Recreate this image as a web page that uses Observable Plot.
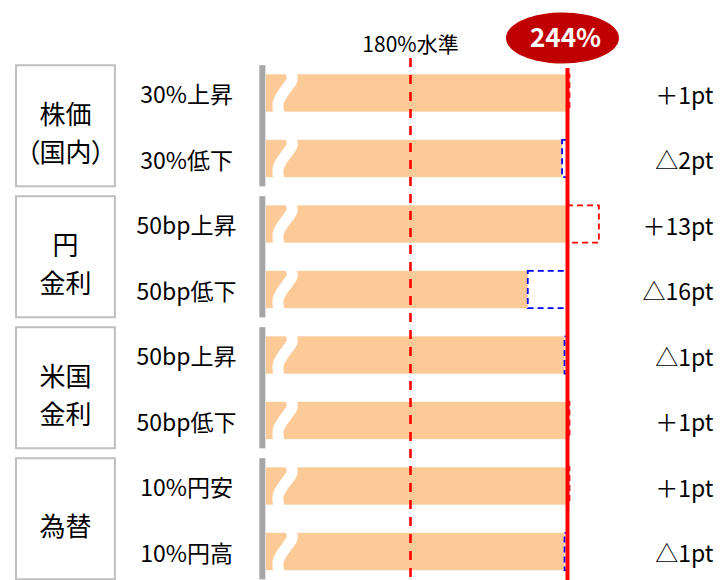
<!DOCTYPE html>
<html>
<head>
<meta charset="utf-8">
<script src="https://cdn.jsdelivr.net/npm/d3@7"></script>
<script src="https://cdn.jsdelivr.net/npm/@observablehq/plot@0.6"></script>
<style>
  html, body { margin: 0; padding: 0; background: #fff; }
  svg { font-family: "Noto Sans CJK JP", sans-serif; }
  .palt text { font-feature-settings: "palt"; }
</style>
</head>
<body>
<div id="chart"></div>
<script>
// ---- data ----
const groups = ["株価\n（国内）", "円\n金利", "米国\n金利", "為替"];
const scenarios = ["30%上昇", "30%低下", "50bp上昇", "50bp低下", "50bp上昇", "50bp低下", "10%円安", "10%円高"];
const changes = [1, -2, 13, -16, -1, 1, 1, -1];          // pt
const changeLabels = ["＋1pt", "△2pt", "＋13pt", "△16pt", "△1pt", "＋1pt", "＋1pt", "△1pt"];
const baseRatio = 244;       // %
const baseLabel = "244%";
const thresholdRatio = 180;  // %
const thresholdLabel = "180%水準";

// ---- layout constants (in scale units) ----
const AXIS_START = 121.3;    // broken axis: bars start here
const BREAK_AT = 128.5;
const GRAY_AXIS_X = 119.6;
const BOX_X1 = 19.4, BOX_X2 = 59.7, GROUP_LABEL_X = 39.4;
const SCEN_LABEL_X = 88.7;
const CHANGE_LABEL_X = 303.5;
const BAR_HALF = 0.285, BOX_HALF = 0.924, AXIS_HALF = 0.925;
const PX_PER_PCT = 157 / 64, PX_PER_ROW = 65.5;

const rows = scenarios.map((s, i) => ({
  i, scenario: s, change: changes[i], label: changeLabels[i],
  end: baseRatio + Math.min(0, changes[i])
}));
const groupRows = groups.map((g, k) => ({ k, name: g, center: 2 * k + 0.5 }));

// wavy break shape (offsets: px horizontally, px vertically from row centre)
const waveShape = [[6, -23], [8, -14], [3, -6], [-2, 1], [-6, 9], [-6, 16], [-4, 23]];
const wave = rows.flatMap(r => waveShape.map(([dx, dy]) => ({
  i: r.i, x: BREAK_AT + dx / PX_PER_PCT, y: r.i + dy / PX_PER_ROW
})));

const ellipse = {
  draw(ctx) {
    const rx = 56.5, ry = 25.5, k = 0.5523;
    ctx.moveTo(rx, 0);
    ctx.bezierCurveTo(rx, ry * k, rx * k, ry, 0, ry);
    ctx.bezierCurveTo(-rx * k, ry, -rx, ry * k, -rx, 0);
    ctx.bezierCurveTo(-rx, -ry * k, -rx * k, -ry, 0, -ry);
    ctx.bezierCurveTo(rx * k, -ry, rx, -ry * k, rx, 0);
    ctx.closePath();
  }
};

const chart = Plot.plot({
  width: 721,
  height: 580,
  margin: 0,
  x: { domain: [12.86, 306.78], range: [0, 721], axis: null },
  y: { domain: [-1.4198, 7.4351], range: [0, 580], axis: null },
  style: { background: "#fff", fontFamily: "'Noto Sans CJK JP', sans-serif" },
  marks: [
    // group boxes
    Plot.rect(groupRows, {
      x1: BOX_X1, x2: BOX_X2,
      y1: d => d.center - BOX_HALF, y2: d => d.center + BOX_HALF,
      fill: "none", stroke: "#bfbfbf", strokeWidth: 2
    }),
    Plot.text(groupRows, {
      x: GROUP_LABEL_X, y: "center", text: "name",
      fontSize: 26, lineHeight: 1.45, dy: 5, fill: "#000",
      className: "palt"
    }),
    // gray axis segments
    Plot.ruleX(groupRows, {
      x: GRAY_AXIS_X, y1: d => d.center - AXIS_HALF, y2: d => d.center + AXIS_HALF,
      stroke: "#a6a6a6", strokeWidth: 6
    }),
    // scenario labels
    Plot.text(rows, {
      x: SCEN_LABEL_X, y: "i", text: "scenario",
      fontSize: 23, dy: 2.5, fill: "#000"
    }),
    // bars
    Plot.rect(rows, {
      x1: AXIS_START, x2: "end",
      y1: d => d.i - BAR_HALF, y2: d => d.i + BAR_HALF,
      fill: "#fcca96"
    }),
    // wavy break
    Plot.line(wave, {
      x: "x", y: "y", z: "i", stroke: "#fff", strokeWidth: 11,
      curve: "catmull-rom", strokeLinecap: "butt"
    }),
    // change boxes
    Plot.rect(rows, {
      x1: baseRatio, x2: d => baseRatio + d.change,
      y1: d => d.i - BAR_HALF, y2: d => d.i + BAR_HALF,
      fill: "none",
      stroke: d => d.change > 0 ? "#ff0000" : "#0000ff",
      strokeWidth: 1.8, strokeDasharray: "6,4"
    }),
    // 180% dashed line
    Plot.ruleX([thresholdRatio], {
      y1: -0.535, y2: 7.44, stroke: "#ff0000", strokeWidth: 2.6, strokeDasharray: "9,8"
    }),
    Plot.text([thresholdRatio], {
      x: d => d, y: -0.735, text: () => thresholdLabel,
      fontSize: 21, fill: "#000"
    }),
    // base ratio line
    Plot.ruleX([baseRatio], {
      y1: -0.38, y2: 7.44, stroke: "#ff0000", strokeWidth: 4
    }),
    Plot.dot([{ x: baseRatio, y: -0.847 }], {
      x: "x", y: "y", symbol: ellipse, fill: "#c00000", stroke: "none", dx: -5
    }),
    Plot.text([{ x: baseRatio, y: -0.847 }], {
      x: "x", y: "y", text: () => baseLabel, dx: -2, dy: 1,
      fontSize: 26, fontWeight: "bold", fill: "#fff"
    }),
    // change labels
    Plot.text(rows, {
      x: CHANGE_LABEL_X, y: "i", text: "label",
      fontSize: 23, textAnchor: "end", dy: 3, fill: "#000"
    })
  ]
});
document.getElementById("chart").appendChild(chart);
</script>
</body>
</html>
